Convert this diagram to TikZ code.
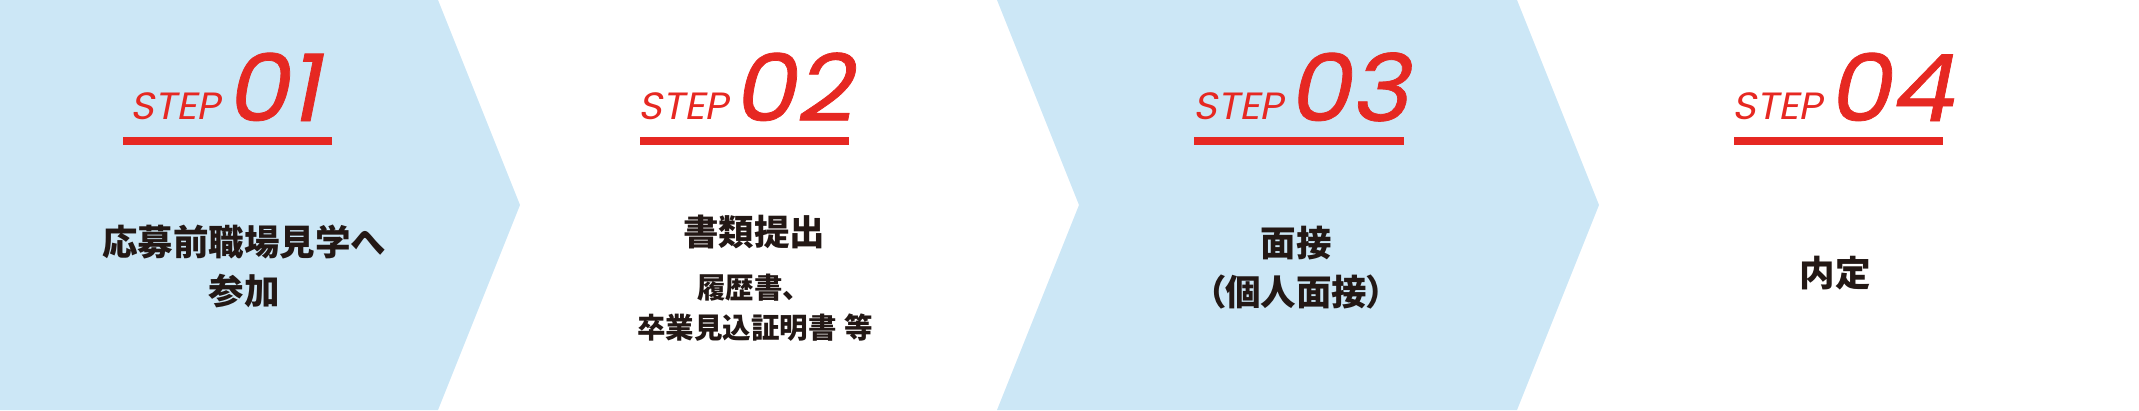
\documentclass[tikz,border=0pt]{standalone}
\usepackage{fontspec}
\newfontfamily\jpfont{Noto Sans CJK JP}
\newfontfamily\jpfontp{Noto Sans CJK JP}[RawFeature=+palt]
\newfontfamily\jpfonts{Noto Sans CJK JP}[WordSpace=1.2]
\newfontfamily\stepfont{Poppins}[FakeSlant=0.2,FakeStretch=1.07]
\newfontfamily\stepnumfont{Poppins}[FakeSlant=0.2,FakeBold=0.8,FakeStretch=1.07]
\definecolor{stepblue}{HTML}{CCE7F6}
\definecolor{stepred}{HTML}{E62822}
\definecolor{inkcol}{HTML}{231815}
\tikzset{
  band/.style={fill=stepblue, draw=none},
  steplbl/.style={inner sep=0pt, anchor=base west, text=stepred, font=\stepfont\fontsize{38}{38}\selectfont},
  stepnum/.style={inner sep=0pt, anchor=base west, text=stepred, font=\stepnumfont\fontsize{93}{93}\selectfont},
  rule/.style={fill=stepred, draw=none},
  bigtxt/.style={inner sep=0pt, anchor=base, text=inkcol, font=\jpfont\bfseries\fontsize{35.5}{35.5}\selectfont},
  bigtxtp/.style={inner sep=0pt, anchor=base, text=inkcol, font=\jpfontp\bfseries\fontsize{35.5}{35.5}\selectfont},
  smalltxt/.style={inner sep=0pt, anchor=base, text=inkcol, font=\jpfonts\bfseries\fontsize{28.5}{28.5}\selectfont}
}
\begin{document}
\begin{tikzpicture}[x=1pt,y=-1pt]
\useasboundingbox (0,0) rectangle (2139,410);
% chevron bands
\path[band] (0,0) -- (438,0) -- (520,205) -- (438,410) -- (0,410) -- cycle;
\path[band] (997,0) -- (1517,0) -- (1599,205) -- (1517,410) -- (997,410) -- (1079,205) -- cycle;
% step headings
\node[steplbl] (s1) at (130,119.5) {STEP};
\node[stepnum] (n1) at (225,121) {01};
\path[rule] (123,137) rectangle (332,145);
\node[steplbl] (s2) at (638,119.5) {STEP};
\node[stepnum] (n2) at (732,121) {02};
\path[rule] (640,137) rectangle (849,145);
\node[steplbl] (s3) at (1193,119.5) {STEP};
\node[stepnum] (n3) at (1287,121) {03};
\path[rule] (1194,137) rectangle (1404,145);
\node[steplbl] (s4) at (1732,119.5) {STEP};
\node[stepnum] (n4) at (1827,121) {04};
\path[rule] (1734,137) rectangle (1943,145);
% texts
\node[bigtxt] (t1a) at (244,255) {応募前職場見学へ};
\node[bigtxt] (t1b) at (244,304) {参加};
\node[bigtxt] (t2a) at (754,245) {書類提出};
\node[smalltxt] (t2b) at (754,298.5) {履歴書、};
\node[smalltxt] (t2c) at (755,338.5) {卒業見込証明書 等};
\node[bigtxt] (t3a) at (1296,256) {面接};
\node[bigtxtp] (t3b) at (1296,305) {（個人面接）};
\node[bigtxt] (t4a) at (1835,286) {内定};
\end{tikzpicture}
\end{document}
